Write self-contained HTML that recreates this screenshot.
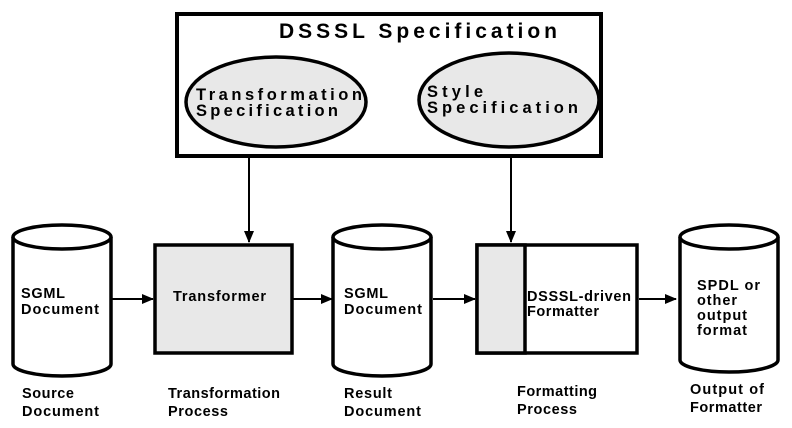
<!DOCTYPE html>
<html><head><style>body{margin:0;background:#fff}svg{display:block}text{font-family:"Liberation Sans",sans-serif;font-weight:bold;fill:#000}</style></head>
<body>
<svg width="792" height="428" viewBox="0 0 792 428" xmlns="http://www.w3.org/2000/svg">
<defs><marker id="a" markerWidth="12" markerHeight="10" refX="11" refY="5" orient="auto" markerUnits="userSpaceOnUse"><path d="M0,0 L12,5 L0,10 Z" fill="#000"/></marker></defs>
<g stroke="#000" stroke-width="4" fill="none">
<rect x="177" y="14" width="424" height="142" fill="#fff"/>
<ellipse cx="276" cy="102" rx="90" ry="45" fill="#e8e8e8" stroke-width="3.5"/>
<ellipse cx="509" cy="100" rx="90" ry="47" fill="#e8e8e8" stroke-width="3.5"/>
</g>
<text x="279" y="38" font-size="21" textLength="278" lengthAdjust="spacing">DSSSL Specification</text>
<text x="196" y="100" font-size="16.5" textLength="166" lengthAdjust="spacing">Transformation</text>
<text x="196" y="116" font-size="16.5" textLength="142" lengthAdjust="spacing">Specification</text>
<text x="427" y="97" font-size="16.5" textLength="56" lengthAdjust="spacing">Style</text>
<text x="427" y="113" font-size="16.5" textLength="151" lengthAdjust="spacing">Specification</text>
<g stroke="#000" stroke-width="2" fill="none">
<line x1="249" y1="157" x2="249" y2="242" marker-end="url(#a)"/>
<line x1="511" y1="157" x2="511" y2="242" marker-end="url(#a)"/>
<line x1="111" y1="299" x2="153" y2="299" marker-end="url(#a)"/>
<line x1="293" y1="299" x2="332" y2="299" marker-end="url(#a)"/>
<line x1="433" y1="299" x2="475" y2="299" marker-end="url(#a)"/>
<line x1="639" y1="299" x2="676" y2="299" marker-end="url(#a)"/>
</g>
<g stroke="#000" stroke-width="3.5" fill="#fff">
<path d="M13,237 L13,364 A49,12 0 0 0 111,364 L111,237 A49,12 0 0 0 13,237 Z"/>
<path d="M13,237 A49,12 0 0 0 111,237"/>
<path d="M333,237 L333,364 A49,12 0 0 0 431,364 L431,237 A49,12 0 0 0 333,237 Z"/>
<path d="M333,237 A49,12 0 0 0 431,237"/>
<path d="M680,237 L680,360 A49,12 0 0 0 778,360 L778,237 A49,12 0 0 0 680,237 Z"/>
<path d="M680,237 A49,12 0 0 0 778,237"/>
<rect x="155" y="245" width="137" height="108" fill="#e8e8e8"/>
<rect x="477" y="245" width="160" height="108"/>
<rect x="477" y="245" width="48" height="108" fill="#e8e8e8"/>
</g>
<g font-size="14.5" lengthAdjust="spacing">
<text x="21" y="298" textLength="44">SGML</text><text x="21" y="314" textLength="78">Document</text>
<text x="173" y="301" textLength="93">Transformer</text>
<text x="344" y="298" textLength="44">SGML</text><text x="344" y="314" textLength="78">Document</text>
<text x="527" y="301" textLength="104">DSSSL-driven</text><text x="527" y="316" textLength="72">Formatter</text>
<text x="697" y="290" textLength="63">SPDL or</text><text x="697" y="305" textLength="40">other</text><text x="697" y="320" textLength="50">output</text><text x="697" y="335" textLength="50">format</text>
<text x="22" y="398" textLength="52">Source</text><text x="22" y="416" textLength="77">Document</text>
<text x="168" y="398" textLength="112">Transformation</text><text x="168" y="416" textLength="60">Process</text>
<text x="344" y="398" textLength="48">Result</text><text x="344" y="416" textLength="77">Document</text>
<text x="517" y="396" textLength="80">Formatting</text><text x="517" y="414" textLength="60">Process</text>
<text x="690" y="394" textLength="74">Output of</text><text x="690" y="412" textLength="72">Formatter</text>
</g>
</svg>
</body></html>
